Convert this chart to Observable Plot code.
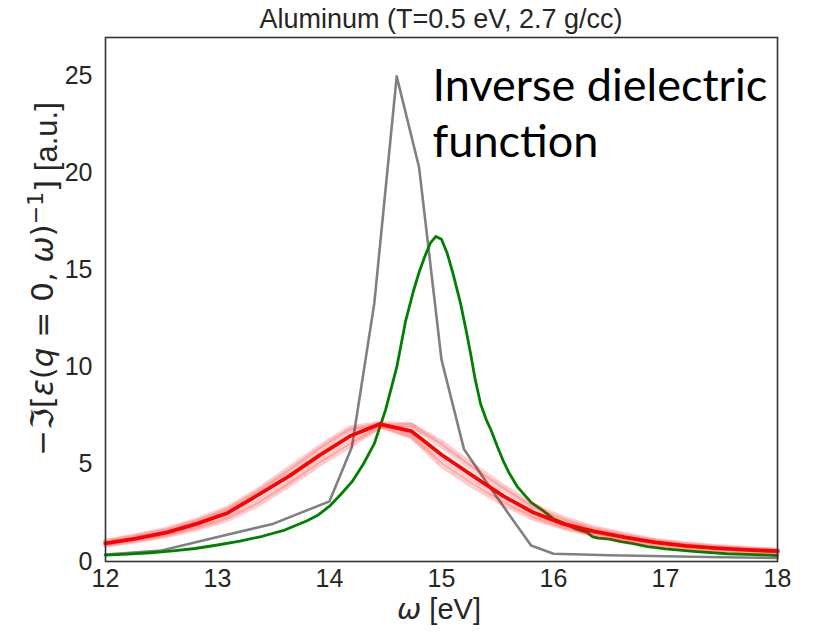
<!DOCTYPE html>
<html>
<head>
<meta charset="utf-8">
<script src="https://cdn.jsdelivr.net/npm/d3@7"></script>
<script src="https://cdn.jsdelivr.net/npm/@observablehq/plot@0.6"></script>
<style>
  body { margin: 0; background: #fff; }
  #title {
    width: 672px; height: 30px; padding-left: 105px;
    font: 27px "Liberation Sans", Arial, sans-serif; line-height: 38px;
    text-align: center; color: #262626; white-space: nowrap;
  }
  #chart svg { display: block; }
</style>
</head>
<body>
<div id="title">Aluminum (T=0.5 eV, 2.7 g/cc)</div>
<div id="chart"></div>
<script>
// Axis ticks
const xTicks = [12, 13, 14, 15, 16, 17, 18];
const yTicks = [0, 5, 10, 15, 20, 25];

// Coarse reference spectrum (grey)
const grayOmega = [12.0, 12.5, 13.0, 13.5, 14.0, 14.2, 14.4, 14.6, 14.8, 15.0, 15.2, 15.4, 15.6, 15.8, 16.0, 16.5, 17.0, 17.5, 18.0];
const grayLoss  = [0.36, 0.57, 1.26, 1.95, 3.1, 5.9, 13.3, 25.0, 20.3, 10.4, 5.8, 4.1, 2.45, 0.82, 0.4, 0.32, 0.27, 0.22, 0.18];

// Fine-grid spectrum (green)
const greenOmega = [12.0, 12.2, 12.4, 12.6, 12.8, 13.0, 13.2, 13.4, 13.6, 13.8, 13.9, 14.0, 14.1, 14.2, 14.3, 14.4, 14.5, 14.6, 14.68, 14.75, 14.8, 14.85, 14.9, 14.95, 15.0, 15.05, 15.1, 15.17, 15.22, 15.26, 15.3, 15.35, 15.4, 15.44, 15.5, 15.55, 15.6, 15.68, 15.8, 15.9, 16.0, 16.1, 16.2, 16.3, 16.35, 16.4, 16.5, 16.6, 16.7, 16.84, 17.0, 17.25, 17.55, 17.8, 18.0];
const greenLoss  = [0.33, 0.38, 0.45, 0.55, 0.67, 0.85, 1.05, 1.3, 1.62, 2.1, 2.4, 2.85, 3.45, 4.1, 5.0, 6.07, 7.8, 10.0, 12.4, 13.95, 14.9, 15.7, 16.4, 16.75, 16.6, 15.9, 14.9, 13.3, 11.9, 10.7, 9.4, 8.1, 7.3, 6.8, 5.9, 5.2, 4.6, 3.83, 3.05, 2.65, 2.2, 1.95, 1.68, 1.5, 1.27, 1.2, 1.15, 1.02, 0.93, 0.77, 0.65, 0.52, 0.4, 0.35, 0.31];

// Averaged spectrum (red) and its individual runs (light red)
const redOmega = [12.0, 12.27, 12.55, 12.82, 13.09, 13.36, 13.64, 13.91, 14.18, 14.45, 14.73, 15.0, 15.27, 15.55, 15.82, 16.09, 16.36, 16.64, 16.91, 17.18, 17.45, 17.73, 18.0];
const redMean  = [0.94, 1.18, 1.5, 1.95, 2.5, 3.42, 4.4, 5.47, 6.45, 7.08, 6.72, 5.5, 4.45, 3.38, 2.52, 1.94, 1.55, 1.24, 0.98, 0.8, 0.69, 0.6, 0.53];
const redRun1  = [1.05, 1.33, 1.67, 2.15, 2.75, 3.68, 4.8, 5.9, 6.88, 7.12, 7.02, 6.15, 5.0, 3.88, 2.88, 2.22, 1.73, 1.39, 1.08, 0.9, 0.77, 0.66, 0.58];
const redRun2  = [0.85, 1.07, 1.33, 1.7, 2.17, 2.92, 3.95, 5.0, 5.95, 6.95, 6.48, 4.95, 3.92, 2.97, 2.23, 1.74, 1.37, 1.1, 0.88, 0.73, 0.62, 0.54, 0.48];
const redRun3  = [1.0, 1.28, 1.6, 2.07, 2.65, 3.55, 4.65, 5.75, 6.75, 7.05, 6.45, 5.2, 4.15, 3.15, 2.35, 1.8, 1.43, 1.13, 0.9, 0.75, 0.64, 0.56, 0.5];
const redRun4  = [0.88, 1.12, 1.4, 1.8, 2.3, 3.1, 4.1, 5.2, 6.15, 6.95, 7.05, 5.95, 4.8, 3.7, 2.75, 2.1, 1.65, 1.32, 1.05, 0.87, 0.74, 0.64, 0.56];

const annotation = "Inverse dielectric\nfunction";

const font = "'Liberation Sans', Arial, sans-serif";
const ink = "#262626";

const runLine = (run) => Plot.line(run, {
  x: redOmega, y: run, stroke: "#ff0000", strokeOpacity: 0.2, strokeWidth: 5
});

const plot = Plot.plot({
  width: 815,
  height: 601,
  marginTop: 7,
  marginLeft: 105,
  marginRight: 38,
  marginBottom: 70,
  style: { fontFamily: font, color: ink, background: "#fff" },
  x: { domain: [12, 18] },
  y: { domain: [0, 27] },
  marks: [
    Plot.line(grayLoss, { x: grayOmega, y: grayLoss, stroke: "#808080", strokeWidth: 2.6 }),
    Plot.line(greenLoss, { x: greenOmega, y: greenLoss, stroke: "#008000", strokeWidth: 2.8 }),
    runLine(redRun1),
    runLine(redRun2),
    runLine(redRun3),
    runLine(redRun4),
    Plot.line(redMean, { x: redOmega, y: redMean, stroke: "#ff0000", strokeWidth: 3.8 }),
    Plot.text([annotation], {
      x: () => 14.92, y: () => 25.8, text: d => d,
      textAnchor: "start", lineAnchor: "top", lineHeight: 1.25,
      fontFamily: "Lato, 'Open Sans', sans-serif", fontSize: 45, fill: "#000"
    }),
    Plot.axisX({ ticks: xTicks, tickFormat: d => String(d), tickSize: 0, tickPadding: 8, fontSize: 25, label: null, fill: ink }),
    Plot.axisY({ ticks: yTicks, tickFormat: d => String(d), tickSize: 0, tickPadding: 13, fontSize: 25, label: null, fill: ink }),
    Plot.frame({ stroke: "#333", strokeWidth: 1.6 })
  ]
});

document.getElementById("chart").append(plot);

// Axis titles with math-style formatting
const svg = d3.select(plot);
const xs = plot.scale("x"), ys = plot.scale("y");
const cx = (xs.range[0] + xs.range[1]) / 2;
const cy = (ys.range[0] + ys.range[1]) / 2;

const xl = svg.append("text")
  .attr("x", cx - 2).attr("y", 589)
  .attr("text-anchor", "middle")
  .attr("font-size", 29).attr("fill", ink)
  .style("font-family", font);
xl.append("tspan").attr("font-family", "'DejaVu Sans'").attr("font-style", "italic").text("ω");
xl.append("tspan").text(" [eV]");

const yl = svg.append("text")
  .attr("transform", `translate(53,${cy - 20}) rotate(-90)`)
  .attr("text-anchor", "middle")
  .attr("font-size", 31).attr("fill", ink)
  .style("font-family", "'DejaVu Sans', sans-serif");
yl.append("tspan").text("−ℑ[");
yl.append("tspan").attr("font-style", "italic").text("ε");
yl.append("tspan").text("(");
yl.append("tspan").attr("font-style", "italic").text("q");
yl.append("tspan").text(" = 0, ");
yl.append("tspan").attr("font-style", "italic").text("ω");
yl.append("tspan").text(")");
yl.append("tspan").attr("dy", "-0.45em").attr("font-size", 22).text("−1");
yl.append("tspan").attr("dy", "0.45em").text("]");
yl.append("tspan").style("font-family", font).text(" [a.u.]");
</script>
</body>
</html>
